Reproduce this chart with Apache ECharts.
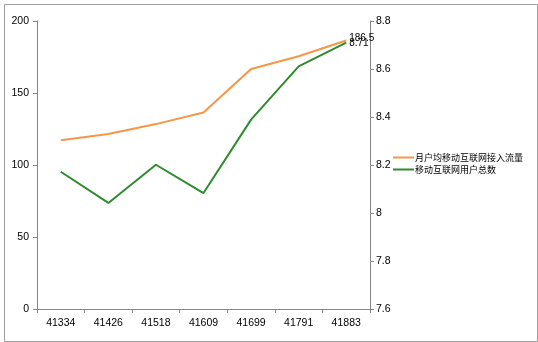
<!DOCTYPE html>
<html>
<head>
<meta charset="utf-8">
<script src="https://cdn.jsdelivr.net/npm/echarts@6/dist/echarts.min.js"></script>
<style>html,body{margin:0;padding:0;background:#fff}#c{width:538px;height:342px}</style>
</head>
<body>
<div id="c"></div>
<script>
var categories = ['41334','41426','41518','41609','41699','41791','41883'];
var trafficPerUser = [117.2, 121.6, 128.4, 136.5, 166.7, 175.5, 186.5];
var totalUsers = [8.172, 8.042, 8.201, 8.083, 8.389, 8.611, 8.71];
var seriesNames = ['月户均移动互联网接入流量', '移动互联网用户总数'];
var leftTicks = {min: 0, max: 200, interval: 50};
var rightTicks = {min: 7.6, max: 8.8, interval: 0.2};

var font = 'Liberation Sans';
var axisColor = '#868686';
var textColor = '#000';
var orange = '#F79646';
var green = '#2E8B2E';

function endLabel(offsetY) {
  return {
    show: true, distance: 3, offset: [0, offsetY],
    color: '#000', fontFamily: font, fontSize: 10,
    formatter: function (p) { return String(p.value); }
  };
}

var chart = echarts.init(document.getElementById('c'), null, {renderer: 'canvas'});
chart.setOption({
  animation: false,
  backgroundColor: '#fff',
  graphic: [{
    type: 'rect', left: 2, top: 2, silent: true,
    shape: {x: 0, y: 0, width: 533, height: 337},
    style: {fill: 'none', stroke: '#a0a0a0', lineWidth: 1}
  }],
  grid: {left: 37, right: 168, top: 21, bottom: 33, containLabel: false},
  legend: {
    orient: 'vertical', left: 393, top: 153, itemWidth: 21, itemHeight: 2, itemGap: 3,
    icon: 'rect', padding: 0,
    textStyle: {fontFamily: 'Noto Sans CJK SC', fontSize: 9, color: textColor, padding: [0,0,0,-4]},
    data: [
      {name: seriesNames[0], itemStyle: {color: orange, opacity: 1}},
      {name: seriesNames[1], itemStyle: {color: green, opacity: 1}}
    ]
  },
  xAxis: {
    type: 'category', data: categories, boundaryGap: true,
    axisLine: {lineStyle: {color: axisColor}},
    axisTick: {show: true, length: 4, lineStyle: {color: axisColor}},
    axisLabel: {color: textColor, fontFamily: font, fontSize: 10.5, margin: 9}
  },
  yAxis: [{
    type: 'value', position: 'left', min: leftTicks.min, max: leftTicks.max, interval: leftTicks.interval,
    axisLine: {show: true, lineStyle: {color: axisColor}},
    axisTick: {show: true, length: 4, lineStyle: {color: axisColor}},
    splitLine: {show: false},
    axisLabel: {color: textColor, fontFamily: font, fontSize: 10.5, margin: 8}
  }, {
    type: 'value', position: 'right', min: rightTicks.min, max: rightTicks.max, interval: rightTicks.interval,
    axisLine: {show: true, lineStyle: {color: axisColor}},
    axisTick: {show: true, length: 4, lineStyle: {color: axisColor}},
    splitLine: {show: false},
    axisLabel: {color: textColor, fontFamily: font, fontSize: 10.5, margin: 6,
      formatter: function (v) { return String(Math.round(v * 10) / 10); }}
  }],
  series: [{
    name: seriesNames[0], type: 'line', yAxisIndex: 0, data: trafficPerUser,
    symbol: 'none',
    lineStyle: {color: orange, width: 2}, itemStyle: {color: orange},
    endLabel: endLabel(-2)
  }, {
    name: seriesNames[1], type: 'line', yAxisIndex: 1, data: totalUsers,
    symbol: 'none',
    lineStyle: {color: green, width: 2}, itemStyle: {color: green},
    endLabel: endLabel(1)
  }]
});
</script>
</body>
</html>
